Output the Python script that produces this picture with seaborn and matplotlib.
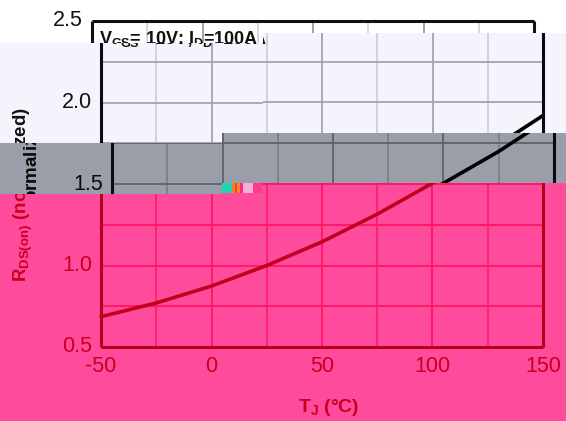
import matplotlib
matplotlib.use("Agg")
import matplotlib.pyplot as plt
from matplotlib.transforms import offset_copy
from matplotlib.patches import Rectangle
import seaborn as sns
import pandas as pd

# ---------------- data ----------------
temps = [-50, -25, 0, 25, 50, 75, 100, 125, 150]
rds_norm = [0.686, 0.77, 0.874, 1.0, 1.145, 1.315, 1.505, 1.70, 1.92]
x_ticks = [-50, 0, 50, 100, 150]
x_tick_labels = ["-50", "0", "50", "100", "150"]
x_grid = [-25, 0, 25, 50, 75, 100, 125]
y_ticks = [0.5, 1.0, 1.5, 2.0, 2.5]
y_tick_labels = ["0.5", "1.0", "1.5", "2.0", "2.5"]
y_grid = [0.75, 1.0, 1.25, 1.5, 1.75, 2.0, 2.25]
title_text = r"V$_{GS}$= 10V; I$_D$=100A"
x_label = r"T$_J$ (°C)"
y_label = r"R$_{DS(on)}$ (normalized)"

df = pd.DataFrame({"T": temps, "R": rds_norm})

sns.set_theme(style="white")
plt.rcParams["font.family"] = ["Liberation Sans", "DejaVu Sans"]
plt.rcParams["mathtext.fontset"] = "custom"
plt.rcParams["mathtext.bf"] = "Liberation Sans:bold"
plt.rcParams["mathtext.rm"] = "Liberation Sans:bold"
plt.rcParams["mathtext.default"] = "bf"

W, H = 566, 421
fig = plt.figure(figsize=(W / 100, H / 100), dpi=100)
fig.patch.set_facecolor("white")

# layout of the (main) chart in pixels
X0, PPD = 101.0, 442.0 / 200.0   # pixel of T=-50, px per degree
Y0, PPU = 347.0, 163.0           # pixel of R=0.5, px per unit
TMIN, TMAX = x_ticks[0], x_ticks[-1]
RMIN, RMAX = y_ticks[0], y_ticks[-1]

STYLES = {
    "white": dict(bg="#ffffff", major="#9c9c9c", minor="#d6d6d6", frame="#111111",
                  curve="#000000", text="#111111"),
    "lav": dict(bg="#f5f4fd", major="#a4a3b4", minor="#cfcedb", frame="#0a0a14",
                curve="#000000", text="#111111"),
    "gray": dict(bg="#9a9ea8", major="#5e626b", minor="#7b7f89", frame="#0a0a10",
                 curve="#000000", text="#0a0a0a"),
    "pink": dict(bg="#ff4b9c", major="#ff1463", minor="#ff1f6a", frame="#b8001c",
                 curve="#c0001c", text="#c8001e"),
}


def band(x0, x1, y0, y1, shift, st):
    s = STYLES[st]
    ax = fig.add_axes([x0 / W, 1 - y1 / H, (x1 - x0) / W, (y1 - y0) / H])
    ax.set_facecolor(s["bg"])
    # grid
    for t in x_grid:
        ax.vlines(t, RMIN, RMAX, color=s["major"] if t % 50 == 0 else s["minor"], lw=1.3, zorder=1)
    ax.hlines(y_grid, TMIN, TMAX, color=s["major"], lw=1.3, zorder=1)
    # curve
    sns.lineplot(data=df, x="T", y="R", ax=ax, color=s["curve"], lw=2.6, zorder=3, legend=False)
    # frame
    ax.vlines([TMIN, TMAX], RMIN, RMAX, color=s["frame"], lw=2.2, zorder=4)
    ax.hlines([RMIN, RMAX], TMIN, TMAX, color=s["frame"], lw=2.2, zorder=4)
    # texts
    tr = lambda dx, dy: offset_copy(ax.transData, fig=fig, x=dx, y=dy, units="dots")
    for v, lab in zip(y_ticks, y_tick_labels):
        ax.text(TMIN, v, lab, transform=tr(-9, 0), ha="right", va="center",
                fontsize=15.5, color=s["text"], clip_on=True)
    for v, lab in zip(x_ticks, x_tick_labels):
        ax.text(v, RMIN, lab, transform=tr(0, -19), ha="center", va="center",
                fontsize=15.5, color=s["text"], clip_on=True)
    ax.text(TMIN, RMAX, title_text, transform=tr(7, -8), ha="left", va="top",
            fontsize=13, fontweight="bold", color=s["text"], clip_on=True)
    ax.text(50, RMIN, x_label, transform=tr(7, -61), ha="center", va="center",
            fontsize=14, fontweight="bold", color=s["text"], clip_on=True)
    ax.text(TMIN, 1.5, y_label, transform=tr(-78, -11), ha="center", va="center",
            rotation=90, fontsize=13.5, fontweight="bold", color=s["text"], clip_on=True)
    ax.set_xlim(TMIN + (x0 - X0 - shift) / PPD, TMIN + (x1 - X0 - shift) / PPD)
    ax.set_ylim(RMIN + (Y0 - y1) / PPU, RMIN + (Y0 - y0) / PPU)
    ax.set_xticks([])
    ax.set_yticks([])
    ax.set_xlabel("")
    ax.set_ylabel("")
    for sp in ax.spines.values():
        sp.set_visible(False)
    return ax


# top untouched strip (original position)
band(0, 263, 0, 43, -9, "white")
band(263, 566, 0, 33, -9, "white")
# lavender band
band(0, 222, 43, 143, 0, "lav")
band(222, 263, 43, 133, 0, "lav")
band(263, 566, 33, 133, 0, "lav")
# gray band (shifted right)
band(0, 222, 143, 194, 11, "gray")
band(222, 566, 133, 183, 11, "gray")
# pink band
band(0, 222, 194, 421, 0, "pink")
band(222, 262, 193, 421, 0, "pink")
band(262, 566, 183, 421, 0, "pink")

# small glitch-noise strip
noise = [(222, 10, "#1fd6b0"), (232, 3, "#ff7a10"), (235, 2, "#ff3a50"), (237, 3, "#ff8a20"),
         (240, 3, "#ff2a80"), (243, 10, "#f0b0d8"), (253, 9, "#ff3a8a")]
for nx, nw, nc in noise:
    fig.patches.append(Rectangle((nx / W, 1 - 193 / H), nw / W, 10 / H,
                                 transform=fig.transFigure, facecolor=nc, edgecolor="none"))

fig.savefig("out.png", dpi=100)
